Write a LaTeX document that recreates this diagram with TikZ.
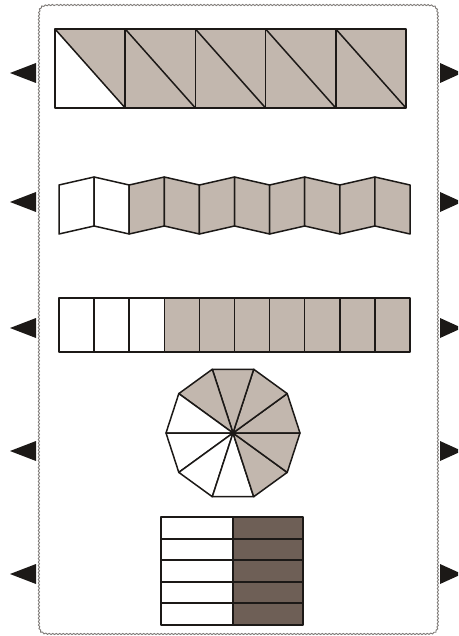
\documentclass[tikz,border=0pt]{standalone}
\usetikzlibrary{decorations.pathmorphing}
\definecolor{lightfill}{HTML}{C2B7AE}
\definecolor{darkfill}{HTML}{6E5F56}
\definecolor{inkc}{HTML}{1C1917}
\definecolor{bordc}{HTML}{7E7A77}
\tikzset{
  ink/.style={draw=inkc, line width=1.5pt, line join=round},
  thickink/.style={draw=inkc, line width=1.9pt, line join=round},
  lgt/.style={fill=lightfill},
  drk/.style={fill=darkfill},
  marker/.style={fill=inkc},
  frame/.style={draw=bordc, line width=0.9pt,
    decorate, decoration={snake, segment length=3.5pt, amplitude=0.6pt}}
}
\begin{document}
\begin{tikzpicture}[x=1pt,y=-1pt]
\useasboundingbox (0,0) rectangle (458,636);
\clip (0,0) rectangle (458,636);
\fill[white] (0,0) rectangle (458,636);

% frame
\draw[frame] (56,5) -- (419,5) .. controls (437,5) .. (437,23)
  -- (437,616) .. controls (437,634) .. (419,634)
  -- (56,634) .. controls (38,634) .. (38,616)
  -- (38,23) .. controls (38,5) .. (56,5);

% side markers
\foreach \yy in {73,202,328,451,574} {
  \fill[marker] (36,\yy-10) -- (10,\yy) -- (36,\yy+10) -- cycle;
  \fill[marker] (440,\yy-10) -- (462,\yy) -- (440,\yy+10) -- cycle;
}

% ---- strip 1: five squares with diagonals
\fill[lgt] (55,29) rectangle (406,108);
\fill[white] (55,29) -- (125.2,108) -- (55,108) -- cycle;
\draw[ink] (55,29) rectangle (406,108);
\foreach \i in {0,...,4} {
  \pgfmathsetmacro\xa{55+70.2*\i}
  \pgfmathsetmacro\xb{55+70.2*(\i+1)}
  \draw[ink] (\xa,29) -- (\xb,108);
  \draw[ink] (\xa,29) -- (\xa,108);
}

% ---- strip 2: zigzag panels
\foreach \k in {0,...,9} {
  \pgfmathsetmacro\xa{59+35.1*\k}
  \pgfmathsetmacro\xb{59+35.1*(\k+1)}
  \pgfmathsetmacro\ta{mod(\k,2)==0 ? 185 : 177}
  \pgfmathsetmacro\tb{mod(\k,2)==0 ? 177 : 185}
  \pgfmathsetmacro\ba{\ta+49}
  \pgfmathsetmacro\bb{\tb+49}
  \ifnum\k<2
    \filldraw[ink, fill=white] (\xa,\ta) -- (\xb,\tb) -- (\xb,\bb) -- (\xa,\ba) -- cycle;
  \else
    \filldraw[ink, lgt] (\xa,\ta) -- (\xb,\tb) -- (\xb,\bb) -- (\xa,\ba) -- cycle;
  \fi
}

% ---- strip 3: ten cells
\foreach \k in {0,...,9} {
  \pgfmathsetmacro\xa{59+35.1*\k}
  \pgfmathsetmacro\xb{59+35.1*(\k+1)}
  \ifnum\k<3
    \filldraw[ink, fill=white] (\xa,298) rectangle (\xb,352);
  \else
    \filldraw[ink, lgt] (\xa,298) rectangle (\xb,352);
  \fi
}

% ---- decagon
\coordinate (dc) at (233,433);
\foreach \a in {0,36,...,324} {
  \pgfmathsetmacro\xa{233+67*cos(\a)}
  \pgfmathsetmacro\ya{433-67*sin(\a)}
  \pgfmathsetmacro\xb{233+67*cos(\a+36)}
  \pgfmathsetmacro\yb{433-67*sin(\a+36)}
  \pgfmathtruncatemacro\wh{(\a>=144 && \a<=252) ? 1 : 0}
  \ifnum\wh=1
    \filldraw[ink, fill=white] (dc) -- (\xa,\ya) -- (\xb,\yb) -- cycle;
  \else
    \filldraw[ink, lgt] (dc) -- (\xa,\ya) -- (\xb,\yb) -- cycle;
  \fi
}
\fill[inkc] (dc) circle (2.2pt);

% ---- bottom rectangle
\fill[drk] (233,517) rectangle (303,625);
\draw[thickink] (161,517) rectangle (303,625);
\draw[thickink] (233,517) -- (233,625);
\foreach \r in {1,...,4} {
  \pgfmathsetmacro\yy{517+21.6*\r}
  \draw[thickink] (161,\yy) -- (303,\yy);
}
\end{tikzpicture}
\end{document}
